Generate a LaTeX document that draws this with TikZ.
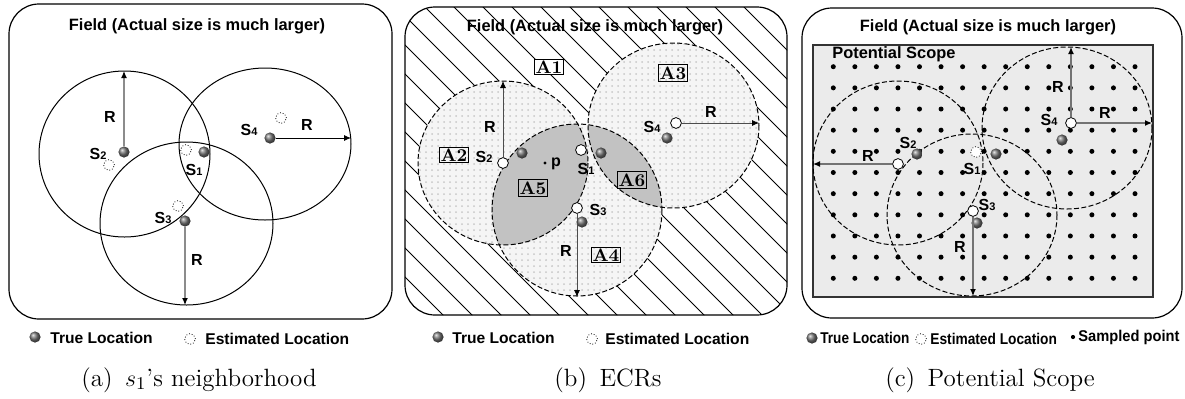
\documentclass[tikz,border=0pt]{standalone}
\usepackage{fontspec}
\newfontfamily\arial{Liberation Sans}
\usetikzlibrary{arrows.meta,patterns,positioning}

\tikzstyle{fieldbox} = [draw, line width=0.6pt, rounded corners=15pt]
\tikzstyle{fieldtitle} = [font=\arial\bfseries\fontsize{8.2}{9}\selectfont]
\tikzstyle{nbcircle} = [draw, line width=0.5pt]
\tikzstyle{ecrcircle} = [draw, dash pattern=on 2.5pt off 1.2pt, line width=0.5pt]
\tikzstyle{truept} = [circle, inner sep=0pt, minimum size=5.6pt, ball color=black!55]
\tikzstyle{estpt} = [circle, inner sep=0pt, minimum size=5.4pt, draw, densely dotted, fill=white, line width=0.4pt]
\tikzstyle{radline} = [draw=black!45, line width=0.6pt, -{Latex[length=3.5pt,width=3pt,color=black]}]
\tikzstyle{tag} = [font=\arial\bfseries\fontsize{8}{9}\selectfont, inner sep=1pt]
\tikzstyle{areabox} = [draw, line width=0.5pt, inner sep=0.8pt, font=\bfseries\fontsize{9}{10}\selectfont]
\tikzstyle{legendtxt} = [font=\arial\bfseries\fontsize{7.8}{9}\selectfont, anchor=west, inner sep=0pt]
\tikzstyle{subcap} = [font=\fontsize{12.5}{15}\selectfont]

\newcommand{\sn}[1]{S{\fontsize{5.5}{6}\selectfont\raisebox{-0.2pt}{#1}}}

\begin{document}
\begin{tikzpicture}[x=0.5pt, y=-0.5pt]
\useasboundingbox (0,0) rectangle (1185,398);

%%% (a) neighbourhood
\draw[fieldbox] (9,4) rectangle (392,319);
\node[fieldtitle] (a-title) at (197,26) {Field (Actual size is much larger)};
\draw[nbcircle] (124.5,154) ellipse [x radius=85.5, y radius=83];
\draw[nbcircle] (265,144) ellipse [x radius=86, y radius=76];
\draw[nbcircle] (186.5,223.5) ellipse [x radius=86.5, y radius=81.5];

\node[estpt] (a-e2) at (109,165) {};
\node[estpt] (a-e1) at (186,150) {};
\node[estpt] (a-e4) at (281,118) {};
\node[estpt] (a-e3) at (178,206) {};
\node[truept] (a-t2) at (124,152) {};
\node[truept] (a-t1) at (204,152) {};
\node[truept] (a-t4) at (270,138) {};
\node[truept] (a-t3) at (185,221) {};

\coordinate (a-r2) at (124,71);
\coordinate (a-r4) at (351,138);
\coordinate (a-r3) at (185,305);
\draw[radline] (a-t2) -- (a-r2);
\draw[radline, draw=black, line width=0.45pt] (a-t4) -- (a-r4);
\draw[radline] (a-t3) -- (a-r3);

\node[tag] (a-s2) at (98,154) {\sn{2}};
\node[tag] (a-s1) at (194,170) {\sn{1}};
\node[tag] (a-s4) at (249,130) {\sn{4}};
\node[tag] (a-s3) at (163,218) {\sn{3}};
\node[tag] (a-R2) at (110,117) {R};
\node[tag] (a-R4) at (307,125) {R};
\node[tag] (a-R3) at (197,260) {R};

\node[truept] (a-lt) at (35,337) {};
\node[legendtxt] (a-ltx) at (50,338) {True Location};
\node[estpt] (a-le) at (190,339) {};
\node[legendtxt] (a-lex) at (205,339) {Estimated Location};
\node[subcap] (a-cap) at (199,380) {(a)\hspace{0.5em}$s_1$'s neighborhood};

%%% (b) ECRs
\begin{scope}
  \clip[rounded corners=15pt] (405,7) rectangle (787,315);
  \foreach \x in {70,99,...,800}
    \draw[line width=0.5pt] (\x,0) -- ++(330,330);
\end{scope}
\foreach \c/\rx/\ry in {{(503,163)}/85/82, {(673.5,125.5)}/85.5/82.5, {(577,210)}/85/86} {
  \fill[black!4] \c ellipse [x radius=\rx, y radius=\ry];
  \fill[pattern=dots, pattern color=black!22] \c ellipse [x radius=\rx, y radius=\ry];
}
\begin{scope}
  \clip (503,163) ellipse [x radius=85, y radius=82];
  \fill[black!24] (577,210) ellipse [x radius=85, y radius=86];
\end{scope}
\begin{scope}
  \clip (673.5,125.5) ellipse [x radius=85.5, y radius=82.5];
  \fill[black!24] (577,210) ellipse [x radius=85, y radius=86];
\end{scope}
\draw[ecrcircle] (503,163) ellipse [x radius=85, y radius=82];
\draw[ecrcircle] (673.5,125.5) ellipse [x radius=85.5, y radius=82.5];
\draw[ecrcircle] (577,210) ellipse [x radius=85, y radius=86];
\draw[fieldbox] (405,7) rectangle (787,315);
\node[fieldtitle] (b-title) at (595,27) {Field (Actual size is much larger)};

\node[areabox, fill=white] (b-A1) at (549,67) {A1};
\node[areabox] (b-A2) at (454,155) {A2};
\node[areabox] (b-A3) at (673,73) {A3};
\node[areabox] (b-A4) at (606,255) {A4};
\node[areabox] (b-A5) at (533,188) {A5};
\node[areabox] (b-A6) at (632,180) {A6};

\node[truept] (b-t2) at (522,153) {};
\node[truept] (b-t1) at (601,153) {};
\node[truept] (b-t4) at (667,138) {};
\node[truept] (b-t3) at (582,222) {};
\node[estpt, solid] (b-e2) at (503,163) {};
\node[estpt, solid] (b-e1) at (581,150) {};
\node[estpt, solid] (b-e4) at (676,123) {};
\node[estpt, solid] (b-e3) at (577,208) {};

\coordinate (b-r2) at (503,81);
\coordinate (b-r4) at (759,123);
\coordinate (b-r3) at (577,297);
\draw[radline, draw=black!70, line width=0.4pt] (b-e2) -- (b-r2);
\draw[radline, draw=black!70, line width=0.4pt] (b-e4) -- (b-r4);
\draw[radline, draw=black!70, line width=0.4pt] (b-e3) -- (b-r3);

\fill (545,163) circle (1.6);
\node[tag] (b-p) at (556,164) {p};
\node[tag] (b-s2) at (484,157) {\sn{2}};
\node[tag] (b-s1) at (586,169) {\sn{1}};
\node[tag] (b-s4) at (652,127) {\sn{4}};
\node[tag] (b-s3) at (598,210) {\sn{3}};
\node[tag] (b-R2) at (490,127) {R};
\node[tag] (b-R4) at (711,112) {R};
\node[tag] (b-R3) at (566,251) {R};

\node[truept] (b-lt) at (438,337) {};
\node[legendtxt] (b-ltx) at (452,338) {True Location};
\node[estpt] (b-le) at (592,339) {};
\node[legendtxt] (b-lex) at (605,339) {Estimated Location};
\node[subcap] (b-cap) at (608,380) {(b)\hspace{0.5em}ECRs};

%%% (c) potential scope
\draw[fieldbox] (802,8) rectangle (1182,318);
\node[fieldtitle] (c-title) at (988,27) {Field (Actual size is much larger)};
\draw[fill=black!8, line width=0.6pt, draw=black!80] (813,45) rectangle (1153,297);
\node[fieldtitle, anchor=west, inner sep=0pt] (c-scope) at (832,54) {Potential Scope};
\foreach \i in {0,...,14}
  \foreach \j in {0,...,10}
    \fill (833.3+21.55*\i, 66.7+21.16*\j) circle (2.5);

\draw[ecrcircle] (898,163) ellipse [x radius=85, y radius=82];
\draw[ecrcircle] (1067,128) ellipse [x radius=85, y radius=81];
\draw[ecrcircle] (972,215) ellipse [x radius=85, y radius=81];

\node[truept] (c-t2) at (917,154) {};
\node[truept] (c-t1) at (996,154) {};
\node[truept] (c-t4) at (1062,140) {};
\node[truept] (c-t3) at (977,223) {};
\node[estpt, solid] (c-e2) at (898,164) {};
\node[estpt] (c-e1) at (976,152) {};
\node[estpt, solid] (c-e4) at (1071,123) {};
\node[estpt, solid] (c-e3) at (973,211) {};

\coordinate (c-r2) at (813,164);
\coordinate (c-r4u) at (1071,47);
\coordinate (c-r4r) at (1152,123);
\coordinate (c-r3) at (973,296);
\draw[radline, draw=black!55] (c-e2) -- (c-r2);
\draw[radline, draw=black!55] (c-e4) -- (c-r4u);
\draw[radline, draw=black!55] (c-e4) -- (c-r4r);
\draw[radline, draw=black!55] (c-e3) -- (c-r3);

\node[tag] (c-s2) at (908,143) {\sn{2}};
\node[tag] (c-s1) at (972,169) {\sn{1}};
\node[tag] (c-s3) at (987,205) {\sn{3}};
\node[tag] (c-s4) at (1049,120) {\sn{4}};
\node[tag] (c-R2) at (868,156) {R};
\node[tag] (c-R4u) at (1058,87) {R};
\node[tag] (c-R4r) at (1105,113) {R};
\node[tag] (c-R3) at (960,247) {R};

\node[truept] (c-lt) at (812,338) {};
\node[legendtxt] (c-ltx) at (820,338) {\scalebox{0.87}[1]{True Location}};
\node[estpt] (c-le) at (921,339) {};
\node[legendtxt] (c-lex) at (930,339) {\scalebox{0.88}[1]{Estimated Location}};
\fill (1073,337) circle (2.1);
\node[legendtxt] (c-lsx) at (1078,337) {\scalebox{0.94}[1]{Sampled point}};
\node[subcap] (c-cap) at (990,380) {(c)\hspace{0.5em}Potential Scope};
\end{tikzpicture}
\end{document}
